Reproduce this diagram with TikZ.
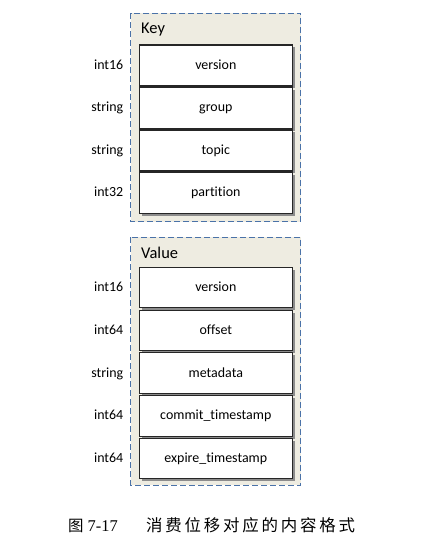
\documentclass[tikz,border=0pt]{standalone}
\usepackage{fontspec}
\setmainfont[Ligatures={NoCommon,NoRare,NoContextual}]{Carlito}
\newfontfamily\cjk{Noto Sans CJK SC}
\newfontfamily\capfont{Liberation Serif}
\begin{document}
\begin{tikzpicture}[x=1bp,y=-1bp,
  container/.style={draw=dashblue, fill=panelbg, dash pattern=on 6bp off 3bp, line width=0.9bp},
  field/.style={draw=black!85, fill=white, line width=1.1bp},
  shadowbox/.style={fill=black!45, draw=none},
  fieldtext/.style={font=\fontsize{14}{16}\selectfont, anchor=base, inner sep=0pt},
  typetext/.style={font=\fontsize{14}{16}\selectfont, anchor=base east, inner sep=0pt},
  titletext/.style={font=\fontsize{16.5}{18}\selectfont, anchor=base west, inner sep=0pt},
]
\definecolor{dashblue}{HTML}{4A72A8}
\definecolor{panelbg}{HTML}{EEECE1}
\useasboundingbox (0,0) rectangle (436,543);

% Key container
\draw[container] (130.7,13.3) rectangle (300.7,221.7);
\node[titletext] (keytitle) at (141,34) {Key};
% Value container
\draw[container] (130.7,237.3) rectangle (300.7,485);
\node[titletext] (valtitle) at (141,258.5) {Value};

% Key fields
\foreach \i/\name/\typ in {0/version/int16, 1/group/string, 2/topic/string, 3/partition/int32}{
  \pgfmathsetmacro{\top}{45+42.5*\i}
  \pgfmathsetmacro{\bot}{\top+41}
  \pgfmathsetmacro{\mid}{\top+20.5}
  \fill[shadowbox] (141.8,\top+2.5) rectangle (294.8,\bot+2.5);
  \draw[field] (139.3,\top) rectangle (292.3,\bot);
  \node[fieldtext] (k\i) at (215.8,\mid+4) {\name};
  \node[typetext] (kt\i) at (123.5,\mid+4) {\typ};
}

% Value fields
\foreach \i/\name/\typ in {0/version/int16, 1/offset/int64, 2/metadata/string, 3/commit\_timestamp/int64, 4/expire\_timestamp/int64}{
  \pgfmathsetmacro{\top}{267.3+42.75*\i}
  \pgfmathsetmacro{\bot}{\top+40.5}
  \pgfmathsetmacro{\mid}{\top+20.25}
  \fill[shadowbox] (141.8,\top+2.5) rectangle (294.8,\bot+2.5);
  \draw[field] (139.3,\top) rectangle (292.3,\bot);
  \node[fieldtext] (v\i) at (215.8,\mid+4) {\name};
  \node[typetext] (vt\i) at (123.5,\mid+4) {\typ};
}

% Caption
\node[anchor=base west, inner sep=0pt] (capnum) at (68,531)
  {{\cjk\fontsize{15.5}{18}\selectfont 图}\hspace{4bp}{\capfont\fontsize{16.5}{18}\selectfont 7-17}};
\node[anchor=base west, inner sep=0pt] (captext) at (146,531)
  {\cjk\fontsize{16.5}{18}\selectfont\addfontfeature{LetterSpace=17}消费位移对应的内容格式};
\end{tikzpicture}
\end{document}
